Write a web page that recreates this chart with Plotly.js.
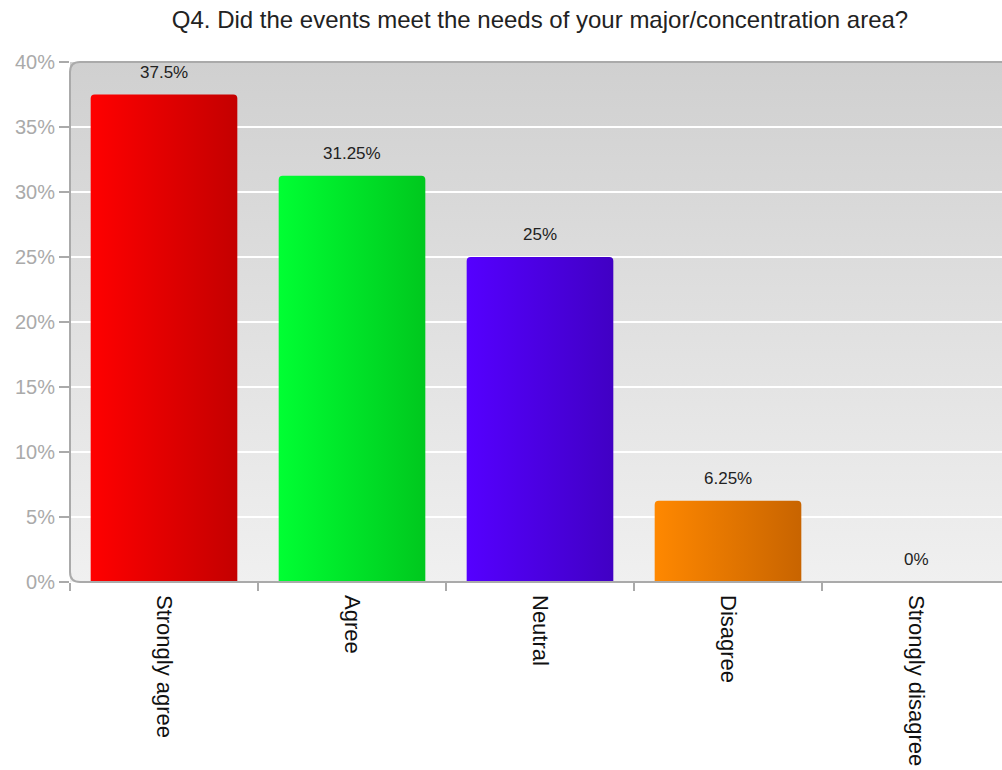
<!DOCTYPE html>
<html>
<head>
<meta charset="utf-8">
<script src="https://cdn.plot.ly/plotly-3.0.1.min.js"></script>
<style>
html,body{margin:0;padding:0;overflow:hidden;background:#fff;}
#chart{width:1010px;height:770px;}
</style>
</head>
<body>
<div id="chart"></div>
<script>
var categories = ["Strongly agree", "Agree", "Neutral", "Disagree", "Strongly disagree"];
var values = [37.5, 31.25, 25, 6.25, 0];
var valueLabels = ["37.5%", "31.25%", "25%", "6.25%", "0%"];
var colorsLeft = ["#ff0000", "#00ff33", "#5500ff", "#ff8800", "#aaaaaa"];
var colorsRight = ["#c40000", "#00c81e", "#4100c4", "#c86400", "#888888"];
var yTickVals = [0, 5, 10, 15, 20, 25, 30, 35, 40];
var yTickText = ["0%", "5%", "10%", "15%", "20%", "25%", "30%", "35%", "40%"];

var FONT = 'Liberation Sans, Arial, sans-serif';

var bgSvg = '<svg xmlns="http://www.w3.org/2000/svg" width="100" height="100" preserveAspectRatio="none">' +
  '<defs><linearGradient id="bg" x1="0" y1="0" x2="0" y2="1">' +
  '<stop offset="0" stop-color="#d0d0d0"/><stop offset="1" stop-color="#f0f0f0"/></linearGradient></defs>' +
  '<rect x="0" y="0" width="100" height="100" fill="url(#bg)"/></svg>';
var bgUri = 'data:image/svg+xml;base64,' + btoa(bgSvg);

var trace = {
  type: 'bar',
  x: categories,
  y: values,
  width: 0.78,
  marker: {color: colorsLeft, cornerradius: 4, line: {width: 0}},
  hoverinfo: 'none'
};

var annotations = categories.map(function (c, i) {
  return {
    x: c, y: values[i], xref: 'x', yref: 'y',
    text: valueLabels[i], showarrow: false,
    yanchor: 'bottom', yshift: 11,
    font: {family: FONT, size: 17, color: '#222'}
  };
});

var rx = 10 / 940, ry = 10 / 520;
var framePath = 'M 1,0 L ' + rx + ',0 Q 0,0 0,' + ry + ' L 0,' + (1 - ry) +
  ' Q 0,1 ' + rx + ',1 L 1,1';

var layout = {
  width: 1010, height: 770,
  margin: {l: 70, r: 0, t: 62, b: 188},
  paper_bgcolor: '#ffffff',
  plot_bgcolor: 'rgba(0,0,0,0)',
  showlegend: false,
  title: {
    text: 'Q4. Did the events meet the needs of your major/concentration area?',
    x: 0.5, xref: 'paper', y: 0.974, yref: 'container', yanchor: 'middle',
    font: {family: FONT, size: 24, color: '#222'}
  },
  xaxis: {
    type: 'category',
    tickson: 'boundaries',
    ticks: 'outside', ticklen: 8, tickcolor: '#aaaaaa', tickwidth: 1.5,
    tickangle: 90,
    ticklabelstandoff: 12,
    tickfont: {family: FONT, size: 22, color: '#111'},
    showgrid: false, showline: false, zeroline: false,
    range: [-0.5, 4.5], fixedrange: true
  },
  yaxis: {
    range: [0, 40],
    tickvals: yTickVals, ticktext: yTickText,
    ticks: 'outside', ticklen: 10, tickcolor: '#aaaaaa', tickwidth: 1.5,
    tickfont: {family: FONT, size: 20, color: '#aaaaaa'},
    showgrid: true, gridcolor: '#ffffff', gridwidth: 1.5,
    showline: false, zeroline: false, fixedrange: true
  },
  images: [{
    source: bgUri, xref: 'paper', yref: 'paper', x: 0, y: 1,
    sizex: 1, sizey: 1, xanchor: 'left', yanchor: 'top',
    sizing: 'stretch', layer: 'below'
  }],
  shapes: [{
    type: 'path', xref: 'paper', yref: 'paper', path: framePath,
    line: {color: '#aaaaaa', width: 2}, layer: 'above'
  }],
  annotations: annotations
};

function applyGradients(gd) {
  var svg = gd.querySelector('svg.main-svg');
  if (!svg) return;
  var ns = 'http://www.w3.org/2000/svg';
  var defs = svg.querySelector('defs');
  if (!defs) { defs = document.createElementNS(ns, 'defs'); svg.insertBefore(defs, svg.firstChild); }
  for (var i = 0; i < colorsLeft.length; i++) {
    var id = 'bargrad' + i;
    if (!defs.querySelector('#' + id)) {
      var g = document.createElementNS(ns, 'linearGradient');
      g.setAttribute('id', id);
      g.setAttribute('x1', '0'); g.setAttribute('y1', '0');
      g.setAttribute('x2', '1'); g.setAttribute('y2', '0');
      var s1 = document.createElementNS(ns, 'stop');
      s1.setAttribute('offset', '0'); s1.setAttribute('stop-color', colorsLeft[i]);
      var s2 = document.createElementNS(ns, 'stop');
      s2.setAttribute('offset', '1'); s2.setAttribute('stop-color', colorsRight[i]);
      g.appendChild(s1); g.appendChild(s2); defs.appendChild(g);
    }
  }
  gd.querySelectorAll('.barlayer .point path').forEach(function (p, i) {
    p.style.fill = 'url(#bargrad' + i + ')';
  });
}

Plotly.newPlot('chart', [trace], layout, {displayModeBar: false, staticPlot: true}).then(function (gd) {
  applyGradients(gd);
  gd.on('plotly_afterplot', function () { applyGradients(gd); });
});
</script>
</body>
</html>
